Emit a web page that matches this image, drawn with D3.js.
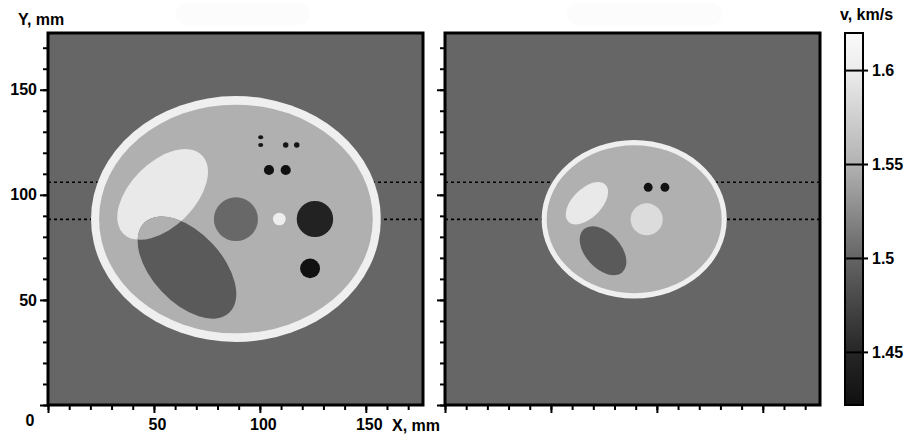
<!DOCTYPE html>
<html>
<head>
<meta charset="utf-8">
<script src="https://cdn.jsdelivr.net/npm/d3@7"></script>
<style>
  body { margin: 0; background: #fff; }
  svg { display: block; }
  text { font-family: Arial, "Liberation Sans", sans-serif; font-weight: bold; }
</style>
</head>
<body>
<svg id="chart"></svg>
<script>
// DATA (mm and km/s)
const tickValues = [0, 10, 20, 30, 40, 50, 60, 70, 80, 90, 100, 110, 120, 130, 140, 150, 160, 170];
const majorTicks = [0, 50, 100, 150];
const colorbarTicks = [1.45, 1.5, 1.55, 1.6];
const colorStops = [1.422, 1.45, 1.5, 1.55, 1.6, 1.62];
const colorGrays = [16, 38, 100, 178, 236, 250];
const guideLines = [88.3, 106];
const backgroundValue = 1.5015;
const overlapValue = 1.549;

// shapes: cx, cy, rx, ry (mm), angle (deg), v (km/s), role
const leftShapes = [
  { cx: 88.7, cy: 88.5, rx: 68.4, ry: 58.5, angle: 0, v: 1.605 },
  { cx: 88.7, cy: 88.5, rx: 64.6, ry: 54.4, angle: 0, v: 1.549 },
  { cx: 54.1, cy: 100.2, rx: 26.2, ry: 15.3, angle: 45, v: 1.597, role: "bright" },
  { cx: 65.6, cy: 65.4, rx: 29.2, ry: 16.6, angle: -47, v: 1.492, role: "dark" },
  { cx: 88.7, cy: 88.4, rx: 10.4, ry: 10.4, angle: 0, v: 1.5025 },
  { cx: 109.2, cy: 88.5, rx: 3, ry: 3, angle: 0, v: 1.603 },
  { cx: 126.0, cy: 88.5, rx: 8.6, ry: 8.6, angle: 0, v: 1.445 },
  { cx: 123.7, cy: 65.0, rx: 4.7, ry: 4.7, angle: 0, v: 1.423 },
  { cx: 104.3, cy: 111.8, rx: 2.4, ry: 2.4, angle: 0, v: 1.423 },
  { cx: 112.2, cy: 111.8, rx: 2.4, ry: 2.4, angle: 0, v: 1.423 },
  { cx: 100.4, cy: 127.4, rx: 1.2, ry: 1.0, angle: 0, v: 1.43 },
  { cx: 100.4, cy: 123.7, rx: 1.2, ry: 1.0, angle: 0, v: 1.43 },
  { cx: 112.2, cy: 123.7, rx: 1.3, ry: 1.3, angle: 0, v: 1.43 },
  { cx: 117.4, cy: 123.7, rx: 1.3, ry: 1.3, angle: 0, v: 1.43 }
];

const rightShapes = [
  { cx: 89.3, cy: 88.4, rx: 43.7, ry: 37.7, angle: 0, v: 1.605 },
  { cx: 89.3, cy: 88.4, rx: 41.3, ry: 35.2, angle: 0, v: 1.549 },
  { cx: 67.0, cy: 96.0, rx: 12.4, ry: 6.9, angle: 45, v: 1.597, role: "bright" },
  { cx: 74.6, cy: 73.4, rx: 13.6, ry: 8.4, angle: -48, v: 1.492, role: "dark" },
  { cx: 95.2, cy: 88.4, rx: 7.6, ry: 7.6, angle: 0, v: 1.586 },
  { cx: 95.9, cy: 103.6, rx: 2.1, ry: 2.1, angle: 0, v: 1.425 },
  { cx: 103.8, cy: 103.6, rx: 2.1, ry: 2.1, angle: 0, v: 1.425 }
];

const panels = [
  { x0: 48, shapes: leftShapes, labels: true },
  { x0: 445, shapes: rightShapes, labels: false }
];

const width = 909;
const height = 437;
const panelSize = 375;
const plotTop = 33;
const plotBottom = 405;
const domainMax = 177;
const fontSize = "16px";

const svg = d3.select("#chart").attr("width", width).attr("height", height);

const grayScale = d3.scaleLinear().domain(colorStops).range(colorGrays).clamp(true);
const color = v => {
  const g = Math.round(grayScale(v));
  return d3.rgb(g, g, g).formatHex();
};

const yScale = d3.scaleLinear().domain([0, domainMax]).range([plotBottom, plotTop]);

// faint title placeholders
svg.append("rect").attr("x", 176).attr("y", 3).attr("width", 134).attr("height", 22)
  .attr("rx", 11).attr("fill", "#fcfcfc");
svg.append("rect").attr("x", 567).attr("y", 3).attr("width", 155).attr("height", 22)
  .attr("rx", 11).attr("fill", "#fcfcfc");

// -----------------------------------------------------------------------------
// PANELS
// -----------------------------------------------------------------------------
panels.forEach((p, i) => {
  const xScale = d3.scaleLinear().domain([0, domainMax]).range([p.x0, p.x0 + panelSize]);
  const kx = xScale(1) - xScale(0);
  const ky = yScale(0) - yScale(1);

  const defs = svg.append("defs");
  defs.append("clipPath").attr("id", `panel-${i}`)
    .append("rect")
    .attr("x", xScale(0)).attr("y", yScale(domainMax))
    .attr("width", xScale(domainMax) - xScale(0))
    .attr("height", yScale(0) - yScale(domainMax));

  const g = svg.append("g").attr("clip-path", `url(#panel-${i})`);

  g.append("rect")
    .attr("x", xScale(0)).attr("y", yScale(domainMax))
    .attr("width", xScale(domainMax) - xScale(0))
    .attr("height", yScale(0) - yScale(domainMax))
    .attr("fill", color(backgroundValue));

  // dotted guide lines (under the phantom)
  g.selectAll(".guide")
    .data(guideLines)
    .enter()
    .append("line")
    .attr("class", "guide")
    .attr("x1", xScale(0)).attr("x2", xScale(domainMax))
    .attr("y1", d => yScale(d)).attr("y2", d => yScale(d))
    .attr("stroke", "#000")
    .attr("stroke-width", 1.6)
    .attr("stroke-dasharray", "3,3");

  const ellipseAttrs = (sel) => sel
    .attr("transform", d => `translate(${xScale(d.cx)},${yScale(d.cy)}) rotate(${-d.angle})`)
    .attr("rx", d => d.rx * kx)
    .attr("ry", d => d.ry * ky);

  g.selectAll(".shape")
    .data(p.shapes.slice(0, 4))
    .enter()
    .append("ellipse")
    .attr("class", "shape")
    .call(ellipseAttrs)
    .attr("fill", d => color(d.v));

  // overlap of bright and dark ellipses returns to the inner value
  const bright = p.shapes.filter(d => d.role === "bright");
  const dark = p.shapes.filter(d => d.role === "dark");
  defs.append("clipPath").attr("id", `bright-${i}`)
    .selectAll("ellipse").data(bright).enter().append("ellipse").call(ellipseAttrs);
  g.append("g").attr("clip-path", `url(#bright-${i})`)
    .selectAll("ellipse").data(dark).enter().append("ellipse")
    .call(ellipseAttrs)
    .attr("fill", color(overlapValue));

  // circles drawn after the overlap so they stay on top
  g.selectAll(".dot")
    .data(p.shapes.slice(4))
    .enter()
    .append("ellipse")
    .attr("class", "dot")
    .call(ellipseAttrs)
    .attr("fill", d => color(d.v));

  // Axes
  const minorX = d3.axisBottom(xScale).tickValues(tickValues).tickSize(5).tickFormat("");
  const majorX = d3.axisBottom(xScale).tickValues(majorTicks).tickSize(8).tickPadding(6)
    .tickFormat(d => (p.labels && d !== 0 ? d : ""));
  const minorY = d3.axisLeft(yScale).tickValues(tickValues).tickSize(5).tickFormat("");
  const majorY = d3.axisLeft(yScale).tickValues(majorTicks).tickSize(8).tickPadding(3)
    .tickFormat(d => (p.labels && d !== 0 ? d : ""));

  [[minorX, true], [majorX, true], [minorY, false], [majorY, false]].forEach(([ax, isX]) => {
    const a = svg.append("g")
      .attr("transform", isX ? `translate(0,${plotBottom})` : `translate(${p.x0},0)`)
      .call(ax);
    a.select(".domain").remove();
    a.selectAll("line").attr("stroke", "#000").attr("stroke-width", 2);
    a.selectAll("text").attr("fill", "#000").style("font-size", fontSize)
      .attr("font-family", null);
    if (isX) a.selectAll("text").attr("dx", 3);
  });

  // Frame
  svg.append("rect")
    .attr("x", xScale(0)).attr("y", yScale(domainMax))
    .attr("width", xScale(domainMax) - xScale(0))
    .attr("height", yScale(0) - yScale(domainMax))
    .attr("fill", "none")
    .attr("stroke", "#000")
    .attr("stroke-width", 3);
});

// Axis titles
svg.append("text").attr("x", 30).attr("y", 426).attr("text-anchor", "middle")
  .style("font-size", fontSize).text("0");
svg.append("text").attr("x", 392).attr("y", 431).style("font-size", fontSize).text("X, mm");
svg.append("text").attr("x", 18).attr("y", 25).style("font-size", fontSize).text("Y, mm");
svg.append("text").attr("x", 840).attr("y", 20).style("font-size", fontSize).text("v, km/s");

// -----------------------------------------------------------------------------
// COLORBAR
// -----------------------------------------------------------------------------
const vScale = d3.scaleLinear()
  .domain([colorStops[0], colorStops[colorStops.length - 1]])
  .range([plotBottom, plotTop]);
const cbX = 845;
const cbW = 18;

const grad = svg.append("defs").append("linearGradient")
  .attr("id", "cb-grad")
  .attr("x1", 0).attr("y1", 1).attr("x2", 0).attr("y2", 0);
grad.selectAll("stop")
  .data(colorStops)
  .enter()
  .append("stop")
  .attr("offset", d => (d - colorStops[0]) / (colorStops[colorStops.length - 1] - colorStops[0]))
  .attr("stop-color", d => color(d));

svg.append("rect")
  .attr("x", cbX).attr("y", plotTop)
  .attr("width", cbW).attr("height", plotBottom - plotTop)
  .attr("fill", "url(#cb-grad)")
  .attr("stroke", "#000")
  .attr("stroke-width", 2);

svg.selectAll(".cbtick")
  .data(colorbarTicks)
  .enter()
  .append("line")
  .attr("class", "cbtick")
  .attr("x1", cbX).attr("x2", cbX + cbW + 5)
  .attr("y1", d => vScale(d)).attr("y2", d => vScale(d))
  .attr("stroke", "#000")
  .attr("stroke-width", 2);

svg.selectAll(".cblabel")
  .data(colorbarTicks)
  .enter()
  .append("text")
  .attr("class", "cblabel")
  .attr("x", cbX + cbW + 9)
  .attr("y", d => vScale(d))
  .attr("dy", "0.35em")
  .style("font-size", fontSize)
  .text(d => d);
</script>
</body>
</html>
